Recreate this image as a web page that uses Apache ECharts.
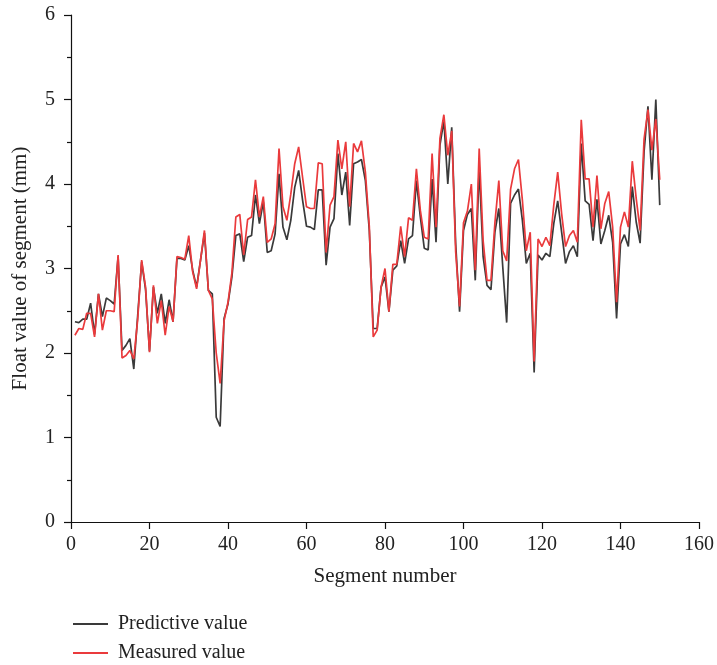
<!DOCTYPE html>
<html>
<head>
<meta charset="utf-8">
<script src="https://cdn.jsdelivr.net/npm/echarts@6/dist/echarts.min.js"></script>
<style>html,body{margin:0;padding:0;background:#fff}#c{width:717px;height:665px}</style>
</head>
<body>
<div id="c"></div>
<script>
const xTicks = [0, 20, 40, 60, 80, 100, 120, 140, 160];
const yTicks = [0, 1, 2, 3, 4, 5, 6];
const seriesNames = ['Predictive value', 'Measured value'];
const predictive = [
  2.37, 2.36, 2.40, 2.40, 2.59, 2.22, 2.70, 2.43, 2.65, 2.62,
  2.58, 3.14, 2.03, 2.09, 2.17, 1.81, 2.45, 3.08, 2.75, 2.02,
  2.78, 2.47, 2.70, 2.35, 2.63, 2.37, 3.12, 3.12, 3.10, 3.27,
  2.98, 2.78, 3.10, 3.42, 2.74, 2.70, 1.24, 1.13, 2.41, 2.58,
  2.90, 3.39, 3.41, 3.08, 3.37, 3.39, 3.87, 3.53, 3.79, 3.19,
  3.21, 3.41, 4.12, 3.49, 3.34, 3.57, 3.96, 4.16, 3.81, 3.50,
  3.49, 3.46, 3.93, 3.93, 3.04, 3.49, 3.59, 4.36, 3.87, 4.14,
  3.51, 4.24, 4.26, 4.29, 4.04, 3.45, 2.29, 2.29, 2.78, 2.90,
  2.49, 2.98, 3.03, 3.33, 3.06, 3.35, 3.39, 4.04, 3.61, 3.24,
  3.22, 4.06, 3.31, 4.46, 4.75, 4.00, 4.67, 3.30, 2.49, 3.45,
  3.64, 3.71, 2.86, 4.20, 3.14, 2.80, 2.75, 3.43, 3.71, 3.02,
  2.36, 3.77, 3.87, 3.94, 3.57, 3.06, 3.18, 1.77, 3.16, 3.10,
  3.18, 3.14, 3.53, 3.80, 3.43, 3.06, 3.20, 3.27, 3.14, 4.48,
  3.80, 3.76, 3.33, 3.82, 3.29, 3.45, 3.63, 3.31, 2.41, 3.29,
  3.40, 3.26, 3.97, 3.55, 3.30, 4.38, 4.92, 4.05, 5.00, 3.75
];
const measured = [
  2.21, 2.29, 2.28, 2.47, 2.47, 2.19, 2.70, 2.27, 2.50, 2.50,
  2.49, 3.16, 1.94, 1.97, 2.03, 1.93, 2.40, 3.10, 2.78, 2.01,
  2.80, 2.35, 2.62, 2.21, 2.55, 2.37, 3.14, 3.13, 3.11, 3.39,
  2.96, 2.76, 3.10, 3.45, 2.74, 2.64, 2.00, 1.64, 2.38, 2.60,
  2.95, 3.61, 3.64, 3.16, 3.58, 3.61, 4.05, 3.61, 3.85, 3.31,
  3.35, 3.53, 4.42, 3.73, 3.57, 3.88, 4.24, 4.44, 4.08, 3.73,
  3.71, 3.71, 4.25, 4.24, 3.19, 3.75, 3.85, 4.52, 4.18, 4.50,
  3.73, 4.48, 4.38, 4.51, 4.14, 3.50, 2.19, 2.27, 2.78, 3.00,
  2.49, 3.05, 3.05, 3.50, 3.14, 3.60, 3.57, 4.18, 3.69, 3.37,
  3.35, 4.36, 3.49, 4.54, 4.82, 4.34, 4.63, 3.20, 2.55, 3.54,
  3.68, 4.00, 2.98, 4.42, 3.33, 2.86, 2.86, 3.54, 4.04, 3.21,
  3.09, 3.94, 4.18, 4.29, 3.81, 3.21, 3.43, 1.90, 3.35, 3.26,
  3.37, 3.27, 3.75, 4.14, 3.65, 3.26, 3.39, 3.45, 3.31, 4.76,
  4.06, 4.06, 3.49, 4.10, 3.47, 3.77, 3.91, 3.49, 2.60, 3.49,
  3.67, 3.49, 4.27, 3.83, 3.45, 4.53, 4.88, 4.40, 4.77, 4.05
];

const FONT = '"Liberation Serif", "DejaVu Serif", serif';
const toPairs = arr => arr.map((v, i) => [i + 1, v]);
const chart = echarts.init(document.getElementById('c'), null, {renderer: 'canvas'});
chart.setOption({
  animation: false,
  backgroundColor: '#fff',
  textStyle: {fontFamily: FONT},
  grid: {left: 71, right: 14, top: 15, bottom: 143, containLabel: false},
  legend: {
    orient: 'vertical', left: 73, top: 613, padding: 0,
    icon: 'rect', itemWidth: 35, itemHeight: 2, itemGap: 7,
    textStyle: {fontFamily: FONT, fontSize: 20, color: '#222', lineHeight: 22, padding: [0, 0, 0, 5]},
    data: seriesNames
  },
  xAxis: {
    type: 'value', min: xTicks[0], max: xTicks[xTicks.length - 1], interval: xTicks[1] - xTicks[0],
    name: 'Segment number', nameLocation: 'middle', nameGap: 44,
    nameTextStyle: {fontFamily: FONT, fontSize: 21, color: '#222'},
    axisLine: {show: true, onZero: false, lineStyle: {color: '#111', width: 1.2}},
    axisTick: {show: true, inside: false, length: 7, lineStyle: {color: '#111', width: 1.2}},
    axisLabel: {fontFamily: FONT, fontSize: 20, color: '#222', margin: 13},
    splitLine: {show: false}
  },
  yAxis: {
    type: 'value', min: yTicks[0], max: yTicks[yTicks.length - 1], interval: yTicks[1] - yTicks[0],
    name: 'Float value of segment (mm)', nameLocation: 'middle', nameGap: 40,
    nameTextStyle: {fontFamily: FONT, fontSize: 21, color: '#222'},
    axisLine: {show: true, onZero: false, lineStyle: {color: '#111', width: 1.2}},
    axisTick: {show: true, inside: false, length: 7, lineStyle: {color: '#111', width: 1.2}},
    minorTick: {show: true, splitNumber: 2, length: 4, lineStyle: {color: '#111', width: 1.2}},
    axisLabel: {fontFamily: FONT, fontSize: 20, color: '#222', margin: 16},
    splitLine: {show: false},
    minorSplitLine: {show: false}
  },
  series: [
    {
      name: seriesNames[0], type: 'line', data: toPairs(predictive),
      showSymbol: false, symbol: 'none',
      lineStyle: {color: '#3a3a3a', width: 1.7},
      itemStyle: {color: '#3a3a3a'}
    },
    {
      name: seriesNames[1], type: 'line', data: toPairs(measured),
      showSymbol: false, symbol: 'none',
      lineStyle: {color: '#ea3a3c', width: 1.7},
      itemStyle: {color: '#ea3a3c'}
    }
  ]
});
</script>
</body>
</html>
